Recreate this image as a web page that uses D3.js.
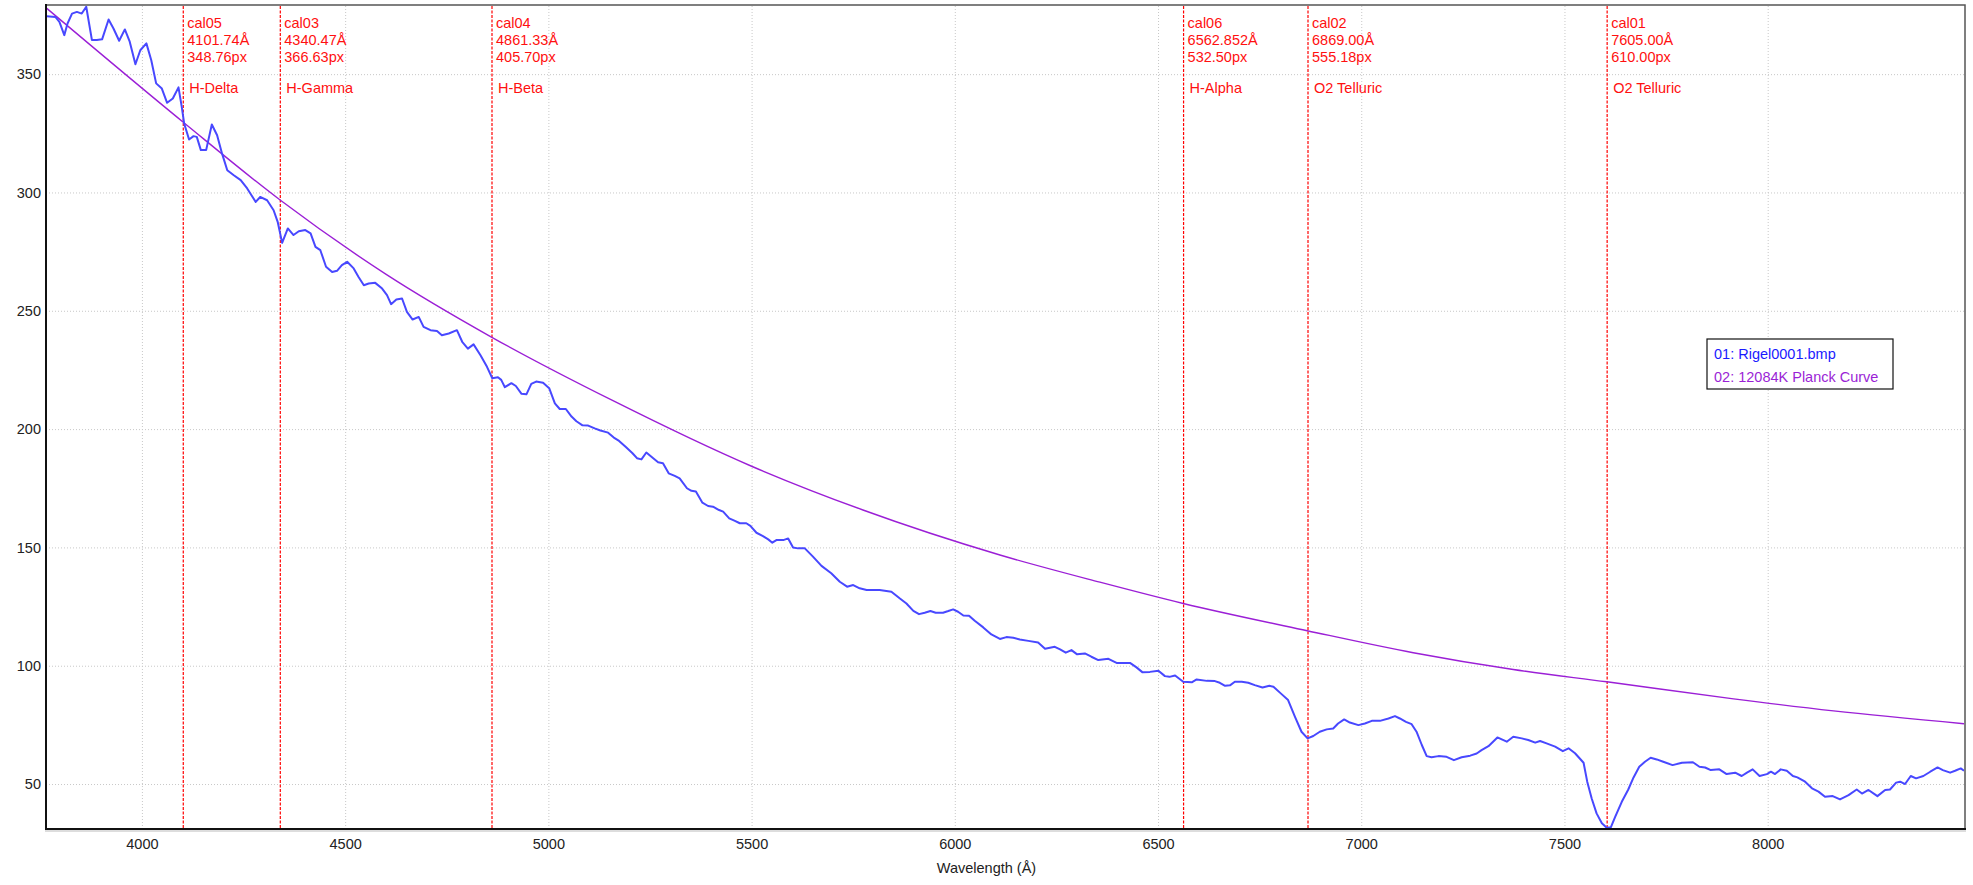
<!DOCTYPE html>
<html>
<head>
<meta charset="utf-8">
<script src="https://cdn.jsdelivr.net/npm/d3@7"></script>
<style>
  body { margin: 0; background: #fff; }
  svg { display: block; font-family: "Liberation Sans", Arial, sans-serif; }
</style>
</head>
<body>
<div id="container"></div>
<script>
// spectrum of Rigel
const wavelengths = [3766,3787,3797,3809,3817,3828,3840,3852,3863,3877,3889,3902,3918,3930,3944,3958,3970,3984,3996,4011,4023,4035,4049,4062,4076,4090,4098,4104,4116,4127,4135,4145,4158,4172,4185,4197,4210,4226,4243,4259,4280,4291,4308,4324,4334,4345,4359,4373,4386,4402,4415,4427,4439,4453,4468,4480,4492,4505,4521,4533,4546,4558,4574,4591,4603,4613,4626,4640,4652,4666,4681,4693,4710,4726,4738,4755,4775,4788,4802,4816,4833,4849,
  4862,4876,4884,4893,4909,4920,4934,4946,4958,4970,4987,5002,5016,5028,5043,5057,5069,5084,5098,5114,5128,5147,5161,5174,5192,5207,5218,5229,5241,5258,5270,5282,5296,5311,5323,5341,5352,5363,5379,5393,5405,5420,5430,5445,5459,5471,5487,5497,5512,5528,5541,5551,5561,5578,5590,5602,5614,5631,5651,5672,5696,5717,5735,5750,5766,5783,5815,5844,
  5865,5881,5898,5912,5926,5940,5953,5971,5984,5996,6008,6021,6035,6049,6070,6090,6111,6127,6144,6160,6181,6205,6222,6246,6259,6273,6287,6301,6320,6336,6353,6378,6398,6431,6447,6462,6480,6501,6517,6528,6542,6562,6583,6595,6620,6640,6652,6665,6677,6689,6706,6722,6738,6757,6774,6784,
  6804,6820,6837,6853,6868,6882,6898,6915,6931,6943,6958,6972,6993,7009,7026,7046,7067,7083,7095,7110,7124,7136,7149,7161,7173,7190,7210,7228,7247,7268,7284,7296,7313,7335,
  7358,7374,7395,7411,7428,7440,7456,7477,7496,7510,7526,7547,7556,7567,7579,7592,7604,7614,7625,7641,7657,7670,7684,7698,7712,7727,7743,7766,7789,7816,7832,7846,7860,7881,7899,7920,7936,7949,7963,7980,7998,8008,8018,8032,8047,8062,8073,8092,8109,8125,8141,8160,8178,8199,8219,8232,8248,8270,8289,8301,8316,8326,8338,8352,8365,8383,8400,8418,8431,8449,8461,8475,8483];
const intensity = [374.5,374.2,372.1,366.5,371.4,375.6,376.3,375.6,378.5,364.4,364.4,364.7,373.1,369.3,364.1,368.9,363.7,354.2,360.1,363.0,355.9,346.1,343.9,337.9,339.7,344.4,336.2,329.1,322.4,323.8,323.5,317.9,317.9,328.7,324.2,316.5,309.4,307.3,305.2,301.7,296.0,298.1,296.7,292.5,287.6,278.7,284.8,282.0,283.6,284.1,282.7,277.0,275.6,268.6,266.4,266.9,269.3,270.7,267.9,264.3,260.8,261.5,261.8,259.4,256.6,252.8,254.8,255.2,249.5,246.3,247.4,243.2,241.8,241.5,239.7,240.4,241.8,236.9,234.0,235.8,231.2,226.3,
  221.5,221.9,220.8,217.7,219.4,218.2,214.9,214.7,219.1,220.1,219.6,217.3,210.9,208.5,208.5,205.3,203.3,201.6,201.5,200.3,199.4,198.5,196.4,195.0,192.2,189.8,187.7,187.2,190.1,187.7,186.0,185.6,181.3,180.2,179.2,175.0,173.9,173.6,168.9,167.5,167.2,165.8,165.1,162.3,161.2,160.2,160.2,159.1,156.2,154.8,153.4,152.0,153.1,153.1,153.8,150.0,149.6,149.6,146.1,142.2,139.1,135.5,133.4,134.1,132.7,132.0,132.0,131.3,
  128.4,126.3,123.2,121.8,122.4,123.1,122.4,122.4,123.1,123.8,122.8,121.2,121.1,119.0,116.2,113.2,111.3,112.1,111.8,111.1,110.5,109.8,107.2,108.0,106.9,105.5,106.6,104.8,105.2,103.8,102.4,102.9,101.2,101.2,99.3,97.2,97.4,97.9,95.6,95.3,95.9,93.2,93.0,94.2,93.6,93.5,92.8,91.5,91.7,93.2,93.2,92.8,91.8,90.8,91.5,91.1,
  88.0,85.5,78.4,72.1,69.3,70.3,72.1,73.1,73.5,75.6,77.3,76.0,74.9,75.6,76.7,76.7,77.7,78.7,77.7,76.3,75.3,72.1,66.5,61.8,61.3,61.8,61.5,60.1,61.3,62.0,62.9,64.3,66.0,69.7,
  67.9,70.0,69.3,68.6,67.5,68.2,67.2,65.8,63.9,65.1,63.0,59.0,51.0,43.9,37.6,33.4,31.5,31.7,36.2,42.5,47.7,52.8,57.3,59.4,61.1,60.4,59.4,58.0,59.0,59.2,57.3,57.0,55.9,56.2,54.2,54.8,53.4,54.8,56.2,53.4,54.2,55.2,54.2,56.2,55.6,53.4,52.8,51.0,48.2,46.8,44.6,44.9,43.5,45.3,47.7,46.0,47.5,44.9,47.5,47.7,50.6,51.0,50.0,53.4,52.4,53.4,55.2,57.0,55.9,54.8,55.6,56.6,55.6];

// 12084K Planck curve
const planckWl = [3766,4101,4340,4600,4861,5159,5500,5774,6111,6357,6562,6867,7128,7374,7604,7916,8162,8483];
const planckVal = [377.8,329.8,296.8,265.5,238.8,212.0,184.3,165.8,146.8,135.3,126.3,114.8,105.5,98.4,93.2,86.0,80.9,75.5];

// calibration markers
const calNames = ["cal05","cal03","cal04","cal06","cal02","cal01"];
const calWl = [4101.74,4340.47,4861.33,6562.852,6869.00,7605.00];
const calWlLabels = ["4101.74Å","4340.47Å","4861.33Å","6562.852Å","6869.00Å","7605.00Å"];
const calPx = ["348.76px","366.63px","405.70px","532.50px","555.18px","610.00px"];
const calLines = ["H-Delta","H-Gamma","H-Beta","H-Alpha","O2 Telluric","O2 Telluric"];

const xTicks = [4000,4500,5000,5500,6000,6500,7000,7500,8000];
const yTicks = [50,100,150,200,250,300,350];
const legendLabels = ["01: Rigel0001.bmp","02: 12084K Planck Curve"];

const main = function(){
  var W = 1973, H = 885;
  var left = 46, right = 1964, top = 6, bottom = 829;
  var fs = 14.5;

  var svg = d3.select('#container').append('svg')
    .attr('width', W).attr('height', H);

  var x = d3.scaleLinear().domain([3764, 8483]).range([left, right]);
  var y = d3.scaleLinear().domain([31, 378.8]).range([bottom, top]);

  // grid
  svg.append('g')
    .attr('transform', 'translate(0,' + bottom + ')')
    .call(d3.axisBottom(x).tickValues(xTicks).tickSize(-(bottom - top)).tickFormat(''))
    .call(g => g.select('.domain').remove())
    .selectAll('line')
      .attr('stroke', '#c8c8c8').attr('stroke-dasharray', '1,2');
  svg.append('g')
    .attr('transform', 'translate(' + left + ',0)')
    .call(d3.axisLeft(y).tickValues(yTicks).tickSize(-(right - left)).tickFormat(''))
    .call(g => g.select('.domain').remove())
    .selectAll('line')
      .attr('stroke', '#c8c8c8').attr('stroke-dasharray', '1,2');

  // tick labels
  var xa = svg.append('g')
    .attr('transform', 'translate(0,' + bottom + ')')
    .call(d3.axisBottom(x).tickValues(xTicks).tickSize(0).tickPadding(10).tickFormat(d3.format('d')));
  xa.select('.domain').remove();
  xa.selectAll('text').attr('font-size', fs).attr('fill', '#222')
    .attr('font-family', '"Liberation Sans", Arial, sans-serif');

  var ya = svg.append('g')
    .attr('transform', 'translate(' + left + ',0)')
    .call(d3.axisLeft(y).tickValues(yTicks).tickSize(0).tickPadding(5).tickFormat(d3.format('d')));
  ya.select('.domain').remove();
  ya.selectAll('text').attr('font-size', fs).attr('fill', '#222')
    .attr('font-family', '"Liberation Sans", Arial, sans-serif');

  svg.append('text')
    .attr('x', W / 2).attr('y', 873)
    .attr('text-anchor', 'middle')
    .attr('font-size', fs).attr('fill', '#222')
    .text('Wavelength (Å)');

  var plot = svg.append('g');
  svg.append('clipPath').attr('id', 'clip')
    .append('rect').attr('x', left).attr('y', top).attr('width', right - left).attr('height', bottom - top);

  // calibration lines
  var cal = plot.selectAll('.cal').data(calWl).enter().append('g').attr('class', 'cal');
  cal.append('line')
    .attr('x1', d => x(d)).attr('x2', d => x(d))
    .attr('y1', top).attr('y2', bottom)
    .attr('stroke', '#ff0000').attr('stroke-width', 1.2)
    .attr('stroke-dasharray', '3,1.5');
  cal.append('text').attr('x', d => x(d) + 4).attr('y', 28)
    .attr('font-size', fs).attr('fill', '#ff1010').text((d, i) => calNames[i]);
  cal.append('text').attr('x', d => x(d) + 4).attr('y', 45)
    .attr('font-size', fs).attr('fill', '#ff1010').text((d, i) => calWlLabels[i]);
  cal.append('text').attr('x', d => x(d) + 4).attr('y', 62)
    .attr('font-size', fs).attr('fill', '#ff1010').text((d, i) => calPx[i]);
  cal.append('text').attr('x', d => x(d) + 6).attr('y', 93)
    .attr('font-size', fs).attr('fill', '#ff1010').text((d, i) => calLines[i]);

  // planck curve
  var planck = planckWl.map((d, i) => [d, planckVal[i]]);
  plot.append('path')
    .datum(planck)
    .attr('clip-path', 'url(#clip)')
    .attr('fill', 'none')
    .attr('stroke', '#9b1fd6')
    .attr('stroke-width', 1.4)
    .attr('d', d3.line().x(d => x(d[0])).y(d => y(d[1])).curve(d3.curveMonotoneX));

  // spectrum
  var spec = wavelengths.map((d, i) => [d, intensity[i]]);
  plot.append('path')
    .datum(spec)
    .attr('clip-path', 'url(#clip)')
    .attr('fill', 'none')
    .attr('stroke', '#4848ff')
    .attr('stroke-width', 2)
    .attr('stroke-linejoin', 'round')
    .attr('d', d3.line().x(d => x(d[0])).y(d => y(d[1])));

  // frame
  svg.append('rect')
    .attr('x', left).attr('y', top - 1)
    .attr('width', right - left + 1).attr('height', bottom - top + 1)
    .attr('fill', 'none').attr('stroke', '#555').attr('stroke-width', 1.5);
  svg.append('line').attr('x1', left).attr('x2', left).attr('y1', top - 2).attr('y2', bottom + 1)
    .attr('stroke', '#111').attr('stroke-width', 2);
  svg.append('line').attr('x1', left - 1).attr('x2', right + 2).attr('y1', bottom).attr('y2', bottom)
    .attr('stroke', '#111').attr('stroke-width', 2);
  svg.append('line').attr('x1', left - 1).attr('x2', right + 2).attr('y1', bottom + 2).attr('y2', bottom + 2)
    .attr('stroke', '#bbb').attr('stroke-width', 1);

  // legend
  var lg = svg.append('g').attr('transform', 'translate(1707,339)');
  lg.append('rect').attr('width', 186).attr('height', 50)
    .attr('fill', '#fff').attr('stroke', '#111').attr('stroke-width', 1.2);
  lg.selectAll('text').data(legendLabels).enter().append('text')
    .attr('x', 7).attr('y', (d, i) => 20 + i * 23)
    .attr('font-size', fs)
    .attr('fill', (d, i) => i === 0 ? '#1a1aff' : '#9b1fd6')
    .text(d => d);
}

main();
</script>
</body>
</html>
